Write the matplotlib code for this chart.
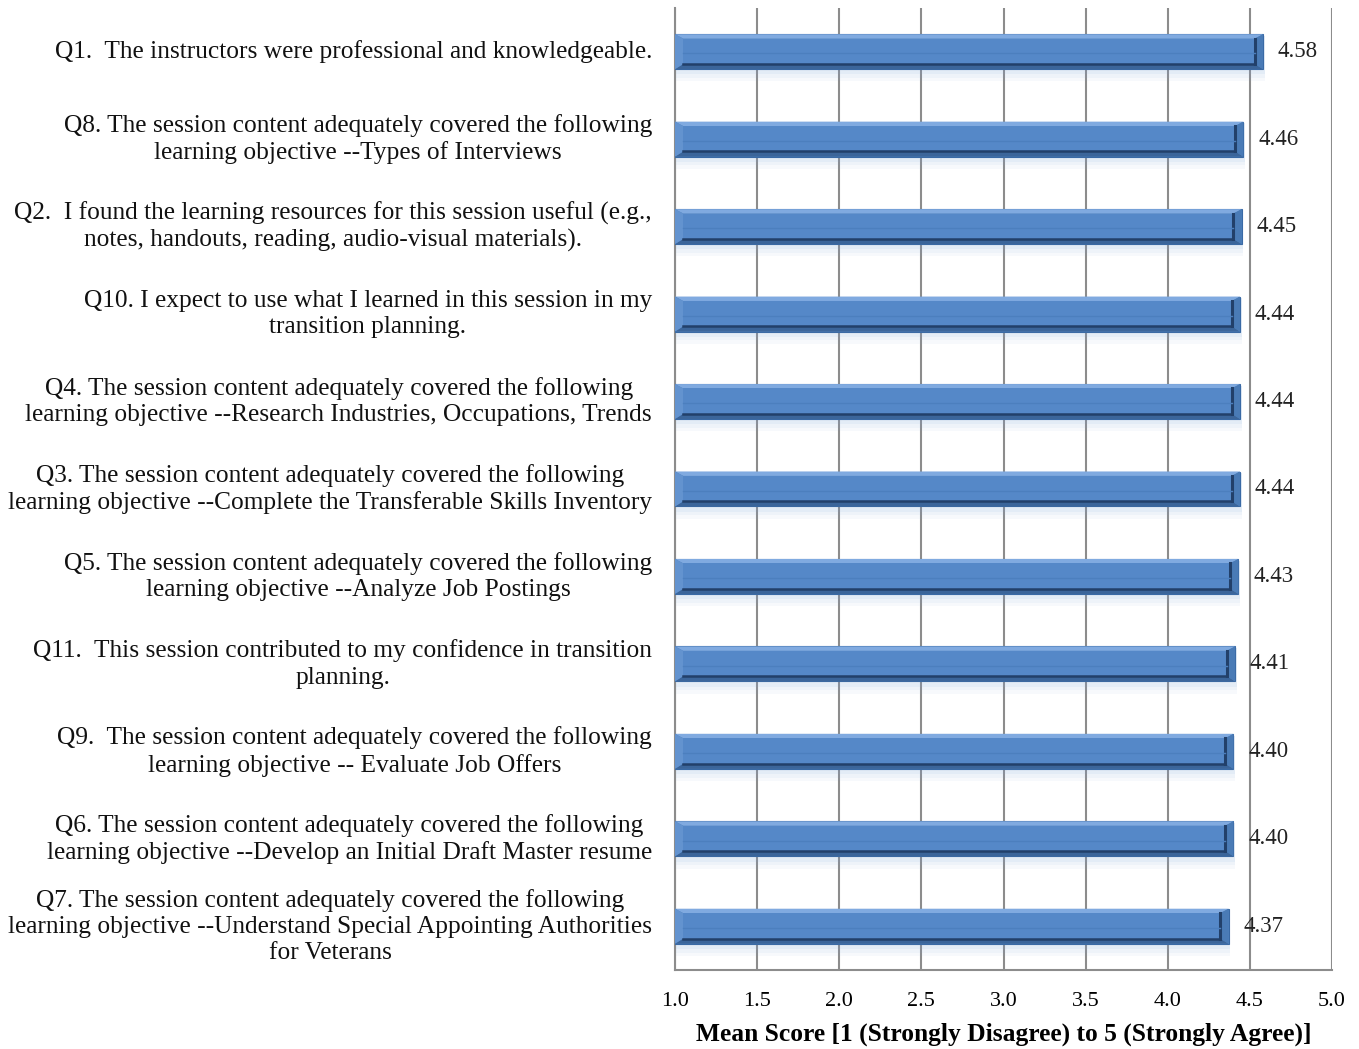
import matplotlib
matplotlib.use("Agg")
import matplotlib.pyplot as plt
from matplotlib.patches import Polygon, Rectangle
from matplotlib.transforms import blended_transform_factory

questions = [
    "Q1.  The instructors were professional and knowledgeable.",
    "Q8. The session content adequately covered the following\nlearning objective --Types of Interviews",
    "Q2.  I found the learning resources for this session useful (e.g.,\nnotes, handouts, reading, audio-visual materials).",
    "Q10. I expect to use what I learned in this session in my\ntransition planning.",
    "Q4. The session content adequately covered the following\nlearning objective --Research Industries, Occupations, Trends",
    "Q3. The session content adequately covered the following\nlearning objective --Complete the Transferable Skills Inventory",
    "Q5. The session content adequately covered the following\nlearning objective --Analyze Job Postings",
    "Q11.  This session contributed to my confidence in transition\nplanning.",
    "Q9.  The session content adequately covered the following\nlearning objective -- Evaluate Job Offers",
    "Q6. The session content adequately covered the following\nlearning objective --Develop an Initial Draft Master resume",
    "Q7. The session content adequately covered the following\nlearning objective --Understand Special Appointing Authorities\nfor Veterans",
]
scores = [4.58, 4.46, 4.45, 4.44, 4.44, 4.44, 4.43, 4.41, 4.40, 4.40, 4.37]
x_ticks = [1.0, 1.5, 2.0, 2.5, 3.0, 3.5, 4.0, 4.5, 5.0]

plt.rcParams["font.family"] = ["Liberation Serif", "DejaVu Serif"]

fig = plt.figure(figsize=(13.59, 10.49), dpi=100)
ax = fig.add_axes([675 / 1359, 1 - 970 / 1049, 657 / 1359, 962 / 1049])

x0 = 1.0
bar_h = 0.4
ypos = list(range(len(scores)))

# soft shadow under the bars
for k, a in [(0.12, 0.06), (0.08, 0.07), (0.04, 0.09)]:
    for y, v in zip(ypos, scores):
        ax.add_patch(Rectangle((x0, y - bar_h / 2 + 0.02), v - x0 + 0.01, bar_h + k,
                               facecolor="#7FA8DC", edgecolor="none", alpha=a, zorder=2))

ax.barh(ypos, [v - x0 for v in scores], left=x0, height=bar_h,
        color="#4F81BD", edgecolor="#3A6AA5", linewidth=0.8, zorder=3)

# bevel decoration
bx = 0.05
by = 0.05
for y, v in zip(ypos, scores):
    top = y - bar_h / 2
    bot = y + bar_h / 2
    l, r = x0, v
    ax.add_patch(Polygon([(l, top), (r, top), (r - bx, top + by), (l + bx, top + by)],
                         facecolor="#80AAE0", edgecolor="none", zorder=4))
    ax.add_patch(Polygon([(l, bot), (r, bot), (r - bx, bot - by * 1.2), (l + bx, bot - by * 1.2)],
                         facecolor="#3B659A", edgecolor="none", zorder=4))
    ax.add_patch(Polygon([(l, top), (l + bx, top + by), (l + bx, bot - by * 1.2), (l, bot)],
                         facecolor="#6393CF", edgecolor="none", zorder=4))
    ax.add_patch(Polygon([(r, top), (r - bx, top + by), (r - bx, bot - by * 1.2), (r, bot)],
                         facecolor="#4A7BB6", edgecolor="none", zorder=4))
    ax.add_patch(Rectangle((l + bx, top + by), r - l - 2 * bx, bot - top - 2.2 * by,
                           facecolor="#5588C8", edgecolor="none", zorder=4))
    ax.plot([l + bx, r - bx], [bot - by * 1.2, bot - by * 1.2], color="#22406A", lw=1.8, zorder=5)
    ax.plot([r - bx, r - bx], [top + by, bot - by * 1.2], color="#22406A", lw=2.2, zorder=5)
    ax.plot([l + bx, r - bx], [y + 0.02, y + 0.02], color="#4C7FBE", lw=1.0, zorder=5)
    ax.text(v + 0.09, y, f"{v:.2f}", ha="left", va="center", fontsize=16.5, color="#222222", zorder=6)

ax.set_xlim(1.0, 5.0)
ax.set_ylim(len(scores) - 0.5, -0.5)
ax.set_xticks(x_ticks)
ax.set_xticklabels([f"{t:.1f}" for t in x_ticks], fontsize=16)
ax.set_yticks([])
ax.tick_params(axis="x", length=0, pad=16)
ax.grid(axis="x", color="#8C8C8C", linewidth=1.5, zorder=0)
ax.set_axisbelow(True)
for s in ["top", "right"]:
    ax.spines[s].set_visible(False)
for s in ["left", "bottom"]:
    ax.spines[s].set_color("#8C8C8C")
    ax.spines[s].set_linewidth(1.5)

trans = blended_transform_factory(fig.transFigure, ax.transData)
for y, q in zip(ypos, questions):
    fig.text(652 / 1359, y, q, transform=trans, ha="right", va="center",
             multialignment="center", fontsize=18.3, color="#111111", linespacing=1.25)

ax.set_xlabel("Mean Score [1 (Strongly Disagree) to 5 (Strongly Agree)]",
              fontsize=18.4, fontweight="bold", labelpad=8)

fig.savefig("out.png", dpi=100)
